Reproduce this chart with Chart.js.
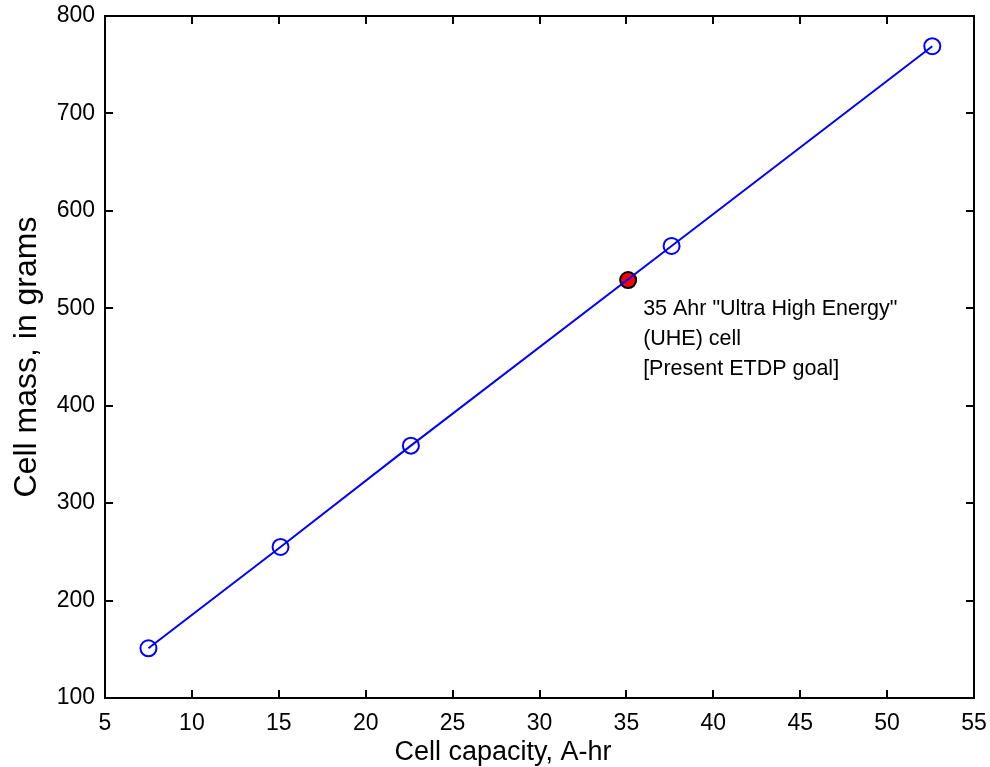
<!DOCTYPE html>
<html lang="en">
<head>
  <meta charset="UTF-8" />
  <title>Cell mass vs capacity</title>
  <script src="https://cdn.jsdelivr.net/npm/chart.js"></script>
  <style>
    html, body { margin: 0; padding: 0; background: #fff; }
    #wrap { width: 990px; height: 767px; }
  </style>
</head>
<body>
  <div id="wrap"><canvas id="chartCanvas" width="990" height="767"></canvas></div>
  <script>
    // values
    const capacity = [7.5, 15.1, 22.6, 37.6, 52.6];
    const mass = [151, 255, 359, 564, 769];
    const uheCapacity = [35.1];
    const uheMass = [529];
    const noteLines = ['35 Ahr "Ultra High Energy"', '(UHE) cell', '[Present ETDP goal]'];
    const xTitle = 'Cell capacity, A-hr';
    const yTitle = 'Cell mass, in grams';

    const font = 'Liberation Sans, Arial, sans-serif';

    // box round the plot with ticks pointing inward on all four sides
    const boxPlugin = {
      id: 'box',
      afterDraw(chart) {
        const { ctx, chartArea: a, scales } = chart;
        const len = 8;
        ctx.save();
        ctx.strokeStyle = '#000';
        ctx.lineWidth = 2;
        ctx.strokeRect(a.left, a.top, a.right - a.left, a.bottom - a.top);
        ctx.beginPath();
        scales.x.ticks.forEach(t => {
          const px = Math.round(scales.x.getPixelForValue(t.value));
          ctx.moveTo(px, a.bottom); ctx.lineTo(px, a.bottom - len);
          ctx.moveTo(px, a.top); ctx.lineTo(px, a.top + len);
        });
        scales.y.ticks.forEach(t => {
          const py = Math.round(scales.y.getPixelForValue(t.value));
          ctx.moveTo(a.left, py); ctx.lineTo(a.left + len, py);
          ctx.moveTo(a.right, py); ctx.lineTo(a.right - len, py);
        });
        ctx.stroke();

        // x title sits a little left of the axis centre in the original
        ctx.fillStyle = '#000';
        ctx.font = '27px ' + font;
        ctx.textAlign = 'center';
        ctx.textBaseline = 'alphabetic';
        ctx.fillText(xTitle, a.left + 398, 760);

        // note beside the UHE point
        const px = scales.x.getPixelForValue(uheCapacity[0]);
        const py = scales.y.getPixelForValue(uheMass[0]);
        ctx.font = '21.5px ' + font;
        ctx.textAlign = 'left';
        ctx.textBaseline = 'middle';
        noteLines.forEach((s, i) => ctx.fillText(s, px + 15, py + 29 + i * 30));
        ctx.restore();
      }
    };

    new Chart(document.getElementById('chartCanvas'), {
      type: 'scatter',
      data: {
        datasets: [
          {
            data: capacity.map((c, i) => ({ x: c, y: mass[i] })),
            showLine: true,
            borderColor: '#0000ff',
            borderWidth: 2,
            pointRadius: 8,
            pointBorderWidth: 2,
            pointBorderColor: '#0000ff',
            pointBackgroundColor: 'rgba(0,0,0,0)'
          },
          {
            data: uheCapacity.map((c, i) => ({ x: c, y: uheMass[i] })),
            pointRadius: 8,
            pointBorderWidth: 2,
            pointBorderColor: '#000',
            pointBackgroundColor: '#ff0000'
          }
        ]
      },
      options: {
        responsive: false,
        animation: false,
        layout: { padding: { top: 16, right: 16, left: 0, bottom: 0 } },
        plugins: { legend: { display: false }, tooltip: { enabled: false } },
        scales: {
          x: {
            min: 5, max: 55,
            grid: { display: true, drawOnChartArea: false, drawTicks: false },
            border: { display: false },
            ticks: { stepSize: 5, padding: 12, color: '#000', font: { family: font, size: 23 } },
            title: { display: false },
            afterFit(scale) { scale.height = 69; scale.paddingLeft = 0; scale.paddingRight = 0; }
          },
          y: {
            min: 100, max: 800,
            grid: { display: true, drawOnChartArea: false, drawTicks: false },
            border: { display: false },
            ticks: { stepSize: 100, padding: 10, color: '#000', font: { family: font, size: 23 } },
            title: { display: true, text: yTitle, color: '#000', font: { family: font, size: 32 }, padding: { top: 8, bottom: 4 } },
            afterFit(scale) { scale.width = 105; scale.paddingTop = 0; scale.paddingBottom = 0; }
          }
        }
      },
      plugins: [boxPlugin]
    });
  </script>
</body>
</html>
